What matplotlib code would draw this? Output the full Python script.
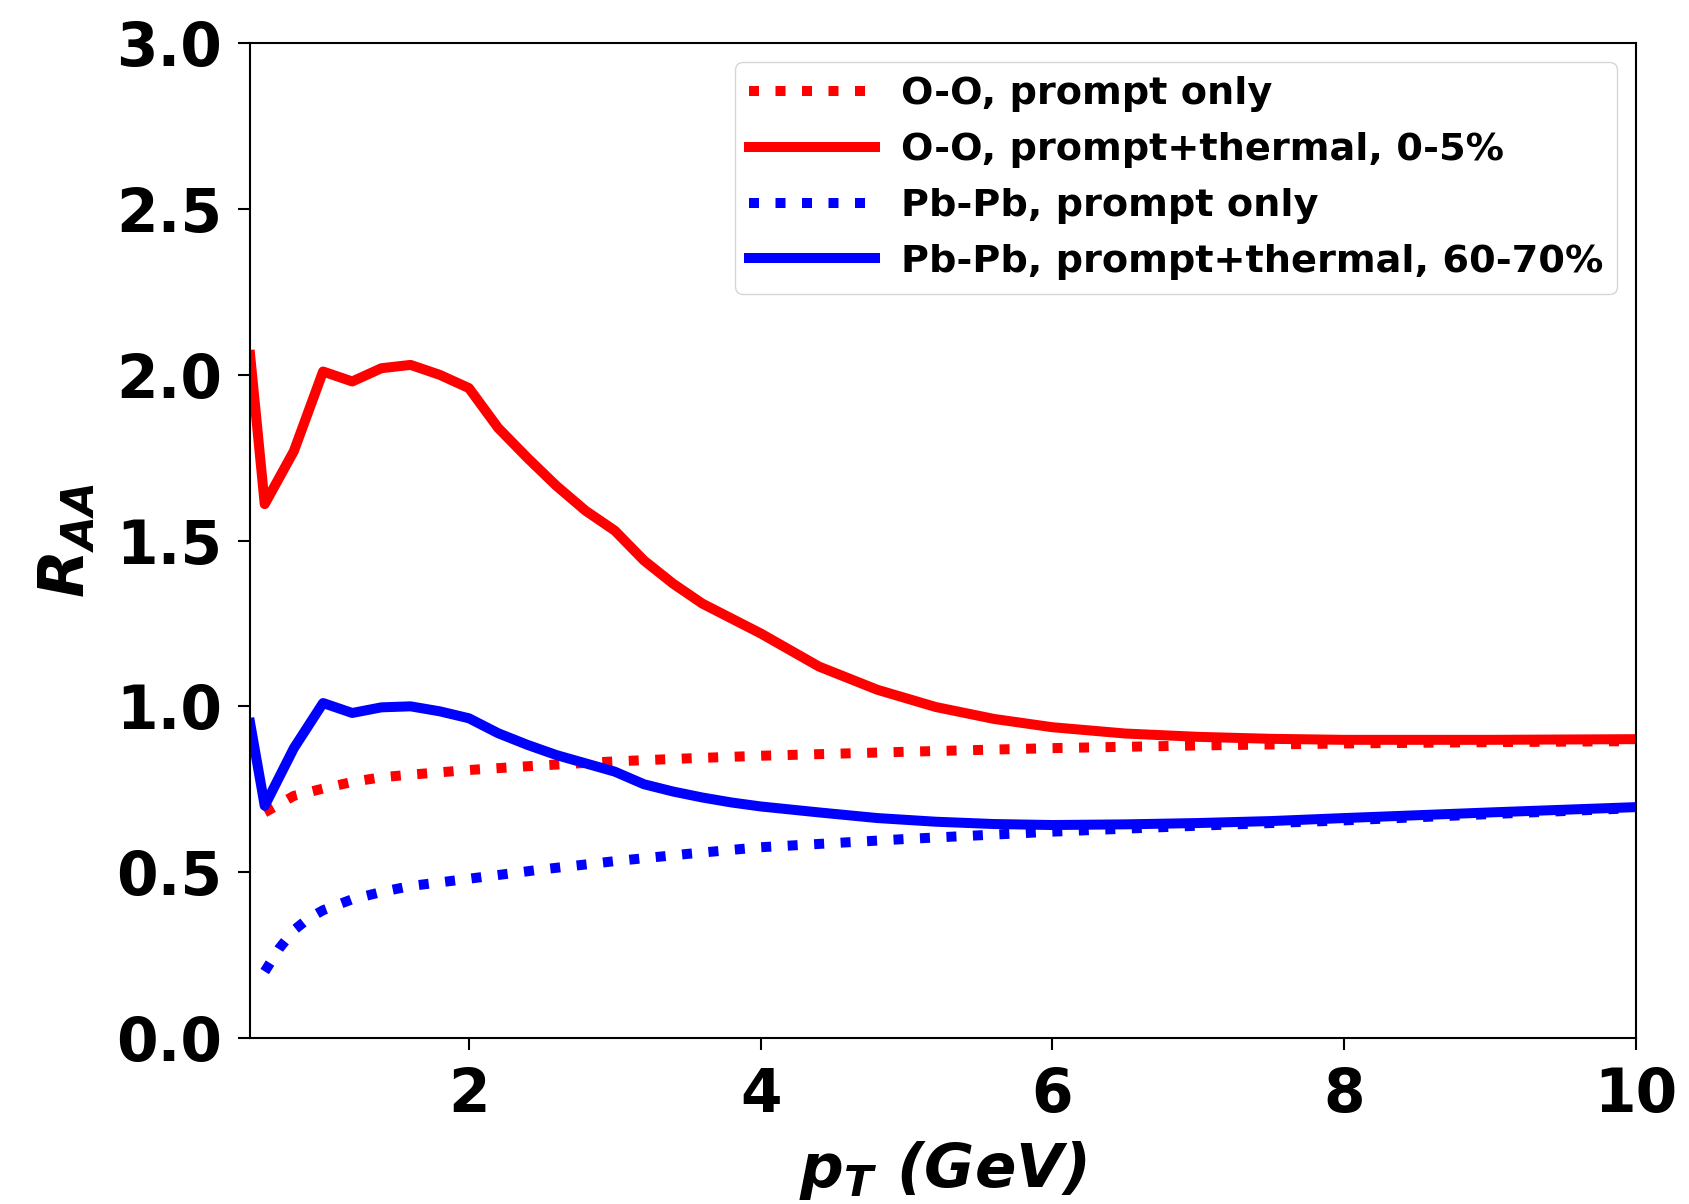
import matplotlib
matplotlib.use('Agg')
import matplotlib.pyplot as plt

# O-O, 0-5%
pt_oo_th = [0.5, 0.6, 0.8, 1.0, 1.2, 1.4, 1.6, 1.8, 2.0, 2.2, 2.4, 2.6, 2.8, 3.0, 3.2, 3.4, 3.6, 3.8,
            4.0, 4.4, 4.8, 5.2, 5.6, 6.0, 6.5, 7.0, 7.5, 8.0, 9.0, 10.0]
raa_oo_th = [2.06, 1.61, 1.77, 2.01, 1.98, 2.02, 2.03, 2.00, 1.96, 1.84, 1.75, 1.665, 1.59, 1.53, 1.44, 1.37,
             1.31, 1.265, 1.22, 1.12, 1.05, 0.998, 0.962, 0.937, 0.918, 0.908, 0.902, 0.899, 0.899, 0.901]
pt_oo_pr = [0.6, 0.8, 1.0, 1.2, 1.4, 1.6, 2.0, 2.5, 3.0, 3.5, 4.0, 5.0, 6.0, 7.0, 8.0, 9.0, 10.0]
raa_oo_pr = [0.68, 0.73, 0.752, 0.772, 0.786, 0.794, 0.808, 0.822, 0.834, 0.843, 0.851, 0.863, 0.874,
             0.882, 0.888, 0.892, 0.895]

# Pb-Pb, 60-70%
pt_pb_th = pt_oo_th
raa_pb_th = [0.95, 0.70, 0.874, 1.01, 0.98, 0.997, 1.0, 0.985, 0.964, 0.919, 0.884, 0.853, 0.828, 0.803,
             0.765, 0.743, 0.725, 0.71, 0.698, 0.68, 0.663, 0.652, 0.645, 0.642, 0.644, 0.648, 0.654,
             0.663, 0.68, 0.696]
pt_pb_pr = [0.6, 0.7, 0.8, 0.9, 1.0, 1.2, 1.4, 1.6, 2.0, 2.5, 3.0, 3.5, 4.0, 5.0, 6.0, 7.0, 8.0, 9.0, 10.0]
raa_pb_pr = [0.2, 0.27, 0.325, 0.36, 0.385, 0.418, 0.44, 0.458, 0.48, 0.508, 0.533, 0.555, 0.575, 0.6,
             0.622, 0.64, 0.656, 0.675, 0.693]

plt.rcParams['font.weight'] = 'bold'
plt.rcParams['mathtext.fontset'] = 'dejavusans'

fig = plt.figure(figsize=(16.9, 12.04), dpi=100)
ax = fig.add_axes([0.148, 0.138, 0.820, 0.826])

lw = 7.2
ax.plot(pt_oo_pr, raa_oo_pr, color='red', ls=':', lw=lw, label='O-O, prompt only')
ax.plot(pt_oo_th, raa_oo_th, color='red', ls='-', lw=lw, label='O-O, prompt+thermal, 0-5%')
ax.plot(pt_pb_pr, raa_pb_pr, color='blue', ls=':', lw=lw, label='Pb-Pb, prompt only')
ax.plot(pt_pb_th, raa_pb_th, color='blue', ls='-', lw=lw, label='Pb-Pb, prompt+thermal, 60-70%')

ax.set_xlim(0.5, 10)
ax.set_ylim(0, 3)
ax.set_xticks([2, 4, 6, 8, 10])
ax.set_yticks([0.0, 0.5, 1.0, 1.5, 2.0, 2.5, 3.0])
ax.set_yticklabels(['0.0', '0.5', '1.0', '1.5', '2.0', '2.5', '3.0'])
ax.tick_params(labelsize=43, width=1.5, length=8.4, pad=12)
for lab in ax.get_xticklabels() + ax.get_yticklabels():
    lab.set_fontweight('bold')
for sp in ax.spines.values():
    sp.set_linewidth(1.5)

ax.set_xlabel(r'$\mathbfit{p_T}$ (GeV)', fontsize=44, fontweight='bold', style='italic', labelpad=10)
ax.set_ylabel(r'$\mathbfit{R_{AA}}$', fontsize=45, labelpad=14)

ax.legend(loc='upper right', prop={'weight': 'bold', 'size': 27.5},
          handlelength=3.3, handletextpad=0.68, borderpad=0.36, labelspacing=0.52,
          borderaxespad=0.5)

fig.savefig('out.png', dpi=100)
